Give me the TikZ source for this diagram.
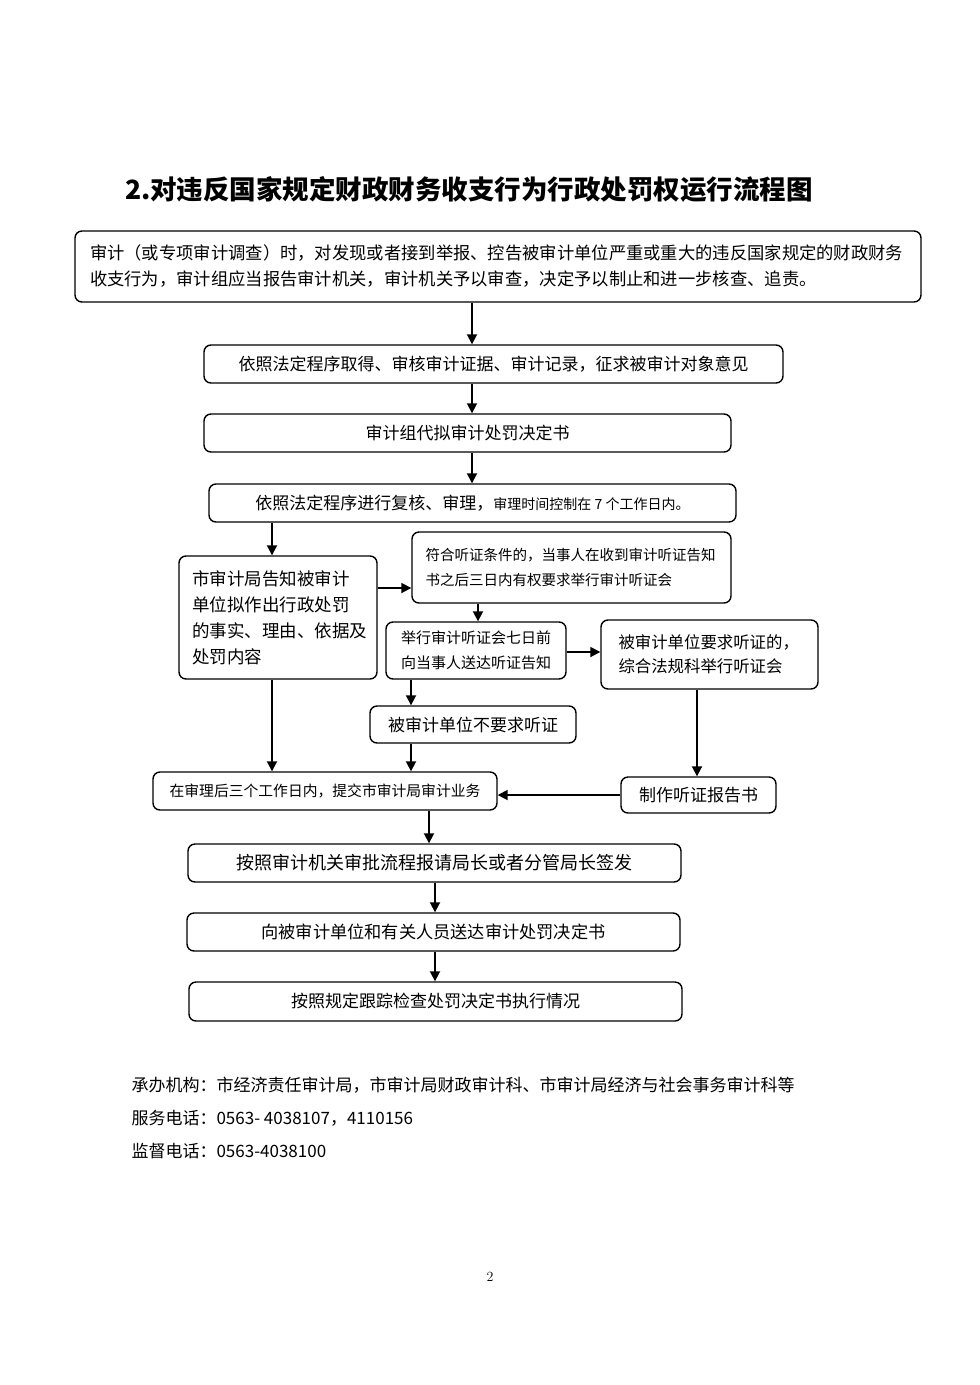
\documentclass[tikz,border=0pt]{standalone}
\usepackage{fontspec}
\newfontfamily\cjk{Noto Sans CJK SC}
\usetikzlibrary{arrows.meta}
\begin{document}
\begin{tikzpicture}[x=1pt,y=-1pt,
  box/.style={draw, rounded corners=7pt, line width=1.4pt, inner sep=0pt, font=\cjk},
  arr/.style={line width=1.8pt, -{Triangle[length=10pt,width=10pt]}},
  fs/.style={font=\cjk\fontsize{#1}{#1}\selectfont}
]
\useasboundingbox[fill=white] (0,0) rectangle (980,1385);

% title
\node[font=\cjk\bfseries\fontsize{26.5}{29}\selectfont] (title) at (469,189) {2.对违反国家规定财政财务收支行为行政处罚权运行流程图};

% boxes
\node[box, minimum width=846pt, minimum height=71pt, text width=816pt, align=left,
  font=\cjk\fontsize{17.3}{26}\selectfont] (b1) at (498,266.5)
  {审计（或专项审计调查）时，对发现或者接到举报、控告被审计单位严重或重大的违反国家规定的财政财务\\收支行为，审计组应当报告审计机关，审计机关予以审查，决定予以制止和进一步核查、追责。};

\node[box, minimum width=579pt, minimum height=38pt, font=\cjk\fontsize{17}{20}\selectfont] (b2) at (493.5,364)
  {依照法定程序取得、审核审计证据、审计记录，征求被审计对象意见};

\node[box, minimum width=527pt, minimum height=38pt, font=\cjk\fontsize{17}{20}\selectfont] (b3) at (467.5,433)
  {审计组代拟审计处罚决定书};

\node[box, minimum width=527pt, minimum height=38pt] (b4) at (472.5,503)
  {{\fontsize{17}{20}\selectfont 依照法定程序进行复核、审理，}{\fontsize{14}{17}\selectfont 审理时间控制在 7 个工作日内。}};

\node[box, minimum width=198pt, minimum height=123pt, text width=172pt, align=left,
  font=\cjk\fontsize{17.5}{26}\selectfont] (L) at (278,617.5)
  {市审计局告知被审计\\单位拟作出行政处罚\\的事实、理由、依据及\\处罚内容};

\node[box, minimum width=319pt, minimum height=71pt, text width=292pt, align=left,
  font=\cjk\fontsize{14.5}{25}\selectfont] (H) at (571.5,567.5)
  {符合听证条件的，当事人在收到审计听证告知\\书之后三日内有权要求举行审计听证会};

\node[box, minimum width=180pt, minimum height=57pt, text width=150pt, align=left,
  font=\cjk\fontsize{15}{25}\selectfont] (N) at (476,650.5)
  {举行审计听证会七日前\\向当事人送达听证告知};

\node[box, minimum width=217pt, minimum height=69pt, text width=182pt, align=left,
  font=\cjk\fontsize{16.4}{24}\selectfont] (R) at (709.5,654.5)
  {被审计单位要求听证的，\\综合法规科举行听证会};

\node[box, minimum width=206pt, minimum height=37pt, font=\cjk\fontsize{17}{20}\selectfont] (NR) at (473,724.5)
  {被审计单位不要求听证};

\node[box, minimum width=344pt, minimum height=38pt, font=\cjk\fontsize{14.8}{18}\selectfont] (S) at (325,791)
  {在审理后三个工作日内，提交市审计局审计业务};

\node[box, minimum width=155pt, minimum height=36pt, font=\cjk\fontsize{17}{20}\selectfont] (P) at (698.5,795)
  {制作听证报告书};

\node[box, minimum width=493pt, minimum height=38pt, font=\cjk\fontsize{18}{20}\selectfont] (A1) at (434.5,863)
  {按照审计机关审批流程报请局长或者分管局长签发};

\node[box, minimum width=493pt, minimum height=38pt, font=\cjk\fontsize{17.2}{20}\selectfont] (A2) at (433.5,932)
  {向被审计单位和有关人员送达审计处罚决定书};

\node[box, minimum width=493pt, minimum height=39pt, font=\cjk\fontsize{17}{20}\selectfont] (A3) at (435.5,1001.5)
  {按照规定跟踪检查处罚决定书执行情况};

% column / row coordinates
\coordinate (x472) at (472,0);
\coordinate (x272) at (272,0);
\coordinate (x478) at (478,0);
\coordinate (x411) at (411,0);
\coordinate (x697) at (697,0);
\coordinate (x429) at (429,0);
\coordinate (x435) at (435,0);
\coordinate (y588) at (0,588);
\coordinate (y652) at (0,652);

% connectors
\draw[arr] (b1.south -| x472) -- (b2.north -| x472);
\draw[arr] (b2.south -| x472) -- (b3.north -| x472);
\draw[arr] (b3.south -| x472) -- (b4.north -| x472);
\draw[arr] (b4.south -| x272) -- (L.north -| x272);
\draw[arr] (L.east |- y588) -- (H.west |- y588);
\draw[arr] (H.south -| x478) -- (N.north -| x478);
\draw[arr] (N.east |- y652) -- (R.west |- y652);
\draw[arr] (N.south -| x411) -- (NR.north -| x411);
\draw[arr] (NR.south -| x411) -- (S.north -| x411);
\draw[arr] (L.south -| x272) -- (S.north -| x272);
\draw[arr] (R.south -| x697) -- (P.north -| x697);
\draw[arr] (P.west) -- (S.east |- P.west);
\draw[arr] (S.south -| x429) -- (A1.north -| x429);
\draw[arr] (A1.south -| x435) -- (A2.north -| x435);
\draw[arr] (A2.south -| x435) -- (A3.north -| x435);

% footer
\node[anchor=base west, fs=17] (f1) at (128,1091) {承办机构：市经济责任审计局，市审计局财政审计科、市审计局经济与社会事务审计科等};
\node[anchor=base west, fs=17] (f2) at (128,1124) {服务电话：0563- 4038107，4110156};
\node[anchor=base west, fs=17] (f3) at (128,1157) {监督电话：0563-4038100};

\node[font=\fontsize{14}{16}\selectfont] (pg) at (490,1277) {2};
\end{tikzpicture}
\end{document}
